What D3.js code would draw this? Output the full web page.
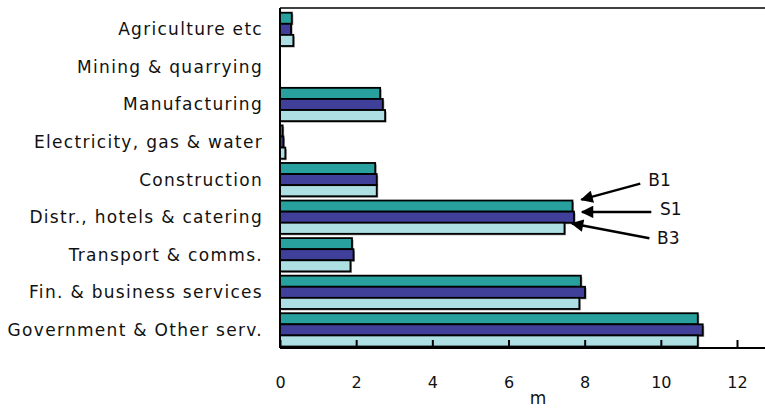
<!DOCTYPE html>
<html>
<head>
<meta charset="utf-8">
<script src="https://cdn.jsdelivr.net/npm/d3@7"></script>
<style>
  body { margin: 0; background: #fff; }
  svg text { font-family: "DejaVu Sans", sans-serif; fill: #111; }
</style>
</head>
<body>
<div id="chart"></div>
<script>
// categories, top to bottom
var categories = ["Agriculture etc", "Mining & quarrying", "Manufacturing",
    "Electricity, gas & water", "Construction", "Distr., hotels & catering",
    "Transport & comms.", "Fin. & business services", "Government & Other serv."];
var seriesNames = ["B1", "S1", "B3"];
var b1 = [0.31, 0, 2.63, 0.07, 2.50, 7.68, 1.89, 7.90, 10.97];
var s1 = [0.29, 0, 2.70, 0.09, 2.54, 7.72, 1.93, 8.01, 11.10];
var b3 = [0.35, 0, 2.76, 0.14, 2.54, 7.47, 1.85, 7.86, 10.97];
var xTicks = [0, 2, 4, 6, 8, 10, 12];
var colors = ["#27a09e", "#40409a", "#addfe3"];

var width = 765, height = 409;
var margin = {top: 8, left: 280, bottom: 61};
var plotRight = 737;

var svg = d3.select("#chart").append("svg").attr("width", width).attr("height", height);

var x = d3.scaleLinear().domain([0, 12]).range([margin.left, plotRight]);
var y0 = d3.scaleBand().domain(categories)
    .range([margin.top, height - margin.bottom])
    .paddingInner(0.114).paddingOuter(0.0825).align(0.76);
var y1 = d3.scaleBand().domain(seriesNames).range([0, y0.bandwidth()]);

var rows = categories.map(function(c, i) {
    return {cat: c, vals: [b1[i], s1[i], b3[i]]};
});

var groups = svg.append("g").selectAll("g")
    .data(rows)
    .enter().append("g")
    .attr("transform", function(d) { return "translate(0," + y0(d.cat) + ")"; });

// faint shadow
groups.selectAll("rect.sh")
    .data(function(d) { return d.vals.map(function(v, k) { return {v: v, k: k}; }); })
    .enter().append("rect")
    .attr("class", "sh")
    .filter(function(d) { return d.v > 0; })
    .attr("x", x(0) + 1.5)
    .attr("y", function(d) { return y1(seriesNames[d.k]) + 1.5; })
    .attr("width", function(d) { return x(d.v) - x(0); })
    .attr("height", y1.bandwidth())
    .attr("fill", "#999");

groups.selectAll("rect.bar")
    .data(function(d) { return d.vals.map(function(v, k) { return {v: v, k: k}; }); })
    .enter().append("rect")
    .attr("class", "bar")
    .filter(function(d) { return d.v > 0; })
    .attr("x", x(0))
    .attr("y", function(d) { return y1(seriesNames[d.k]); })
    .attr("width", function(d) { return x(d.v) - x(0); })
    .attr("height", y1.bandwidth())
    .attr("fill", function(d) { return colors[d.k]; })
    .attr("stroke", "#000")
    .attr("stroke-width", 1.8);

// category labels
svg.append("g").selectAll("text")
    .data(categories)
    .enter().append("text")
    .attr("x", 263)
    .attr("y", function(d) { return y0(d) + y0.bandwidth() / 2; })
    .attr("dy", "0.35em")
    .attr("text-anchor", "end")
    .attr("font-size", 17)
    .attr("letter-spacing", 1.3)
    .text(function(d) { return d; });

// x axis with inward ticks
var xAxis = svg.append("g")
    .attr("transform", "translate(0," + (height - margin.bottom) + ")")
    .call(d3.axisBottom(x).tickValues(xTicks).tickSizeInner(-8).tickSizeOuter(0).tickPadding(29));
xAxis.select(".domain").remove();
xAxis.selectAll(".tick line").attr("stroke", "#000").attr("stroke-width", 2);
xAxis.selectAll(".tick text").attr("font-size", 16).style("font-family", "'DejaVu Sans', sans-serif");
xAxis.append("line").attr("x1", margin.left).attr("x2", width)
    .attr("stroke", "#000").attr("stroke-width", 2);

// top frame line and left axis
svg.append("line").attr("x1", margin.left).attr("x2", width)
    .attr("y1", margin.top).attr("y2", margin.top)
    .attr("stroke", "#000").attr("stroke-width", 1.5);
svg.append("line").attr("x1", margin.left).attr("x2", margin.left)
    .attr("y1", margin.top).attr("y2", height - margin.bottom)
    .attr("stroke", "#000").attr("stroke-width", 2);

svg.append("text").attr("x", 538).attr("y", 404)
    .attr("text-anchor", "middle").attr("font-size", 17).text("m");

// arrow annotations pointing at distribution bars
svg.append("defs").append("marker")
    .attr("id", "arr").attr("viewBox", "0 0 10 10")
    .attr("refX", 9).attr("refY", 5)
    .attr("markerWidth", 5.5).attr("markerHeight", 5)
    .attr("orient", "auto")
    .append("path").attr("d", "M0,0 L10,5 L0,10 z").attr("fill", "#000");

var dIdx = 5;
var vals = [b1, s1, b3];
// start value, start y offset, tip gap, tip y offset, label value, label y offset
var notes = [
    {name: "B1", k: 0, sx: 9.46, sy: -22.5, gap: 9, ty: -6.5, lx: 9.67, ly: -26.5},
    {name: "S1", k: 1, sx: 9.75, sy: -5.3, gap: 8, ty: -5.3, lx: 9.98, ly: -7.7},
    {name: "B3", k: 2, sx: 9.70, sy: 10, gap: 7.5, ty: -4.7, lx: 9.90, ly: 9.3}
];
notes.forEach(function(n) {
    var cy = y0(categories[dIdx]) + y1(n.name) + y1.bandwidth() / 2;
    svg.append("line")
        .attr("x1", x(n.sx)).attr("y1", cy + n.sy)
        .attr("x2", x(vals[n.k][dIdx]) + n.gap).attr("y2", cy + n.ty)
        .attr("stroke", "#000").attr("stroke-width", 2.5)
        .attr("marker-end", "url(#arr)");
    svg.append("text")
        .attr("x", x(n.lx)).attr("y", cy + n.ly)
        .attr("dy", "0.35em").attr("font-size", 17)
        .text(n.name);
});
</script>
</body>
</html>
